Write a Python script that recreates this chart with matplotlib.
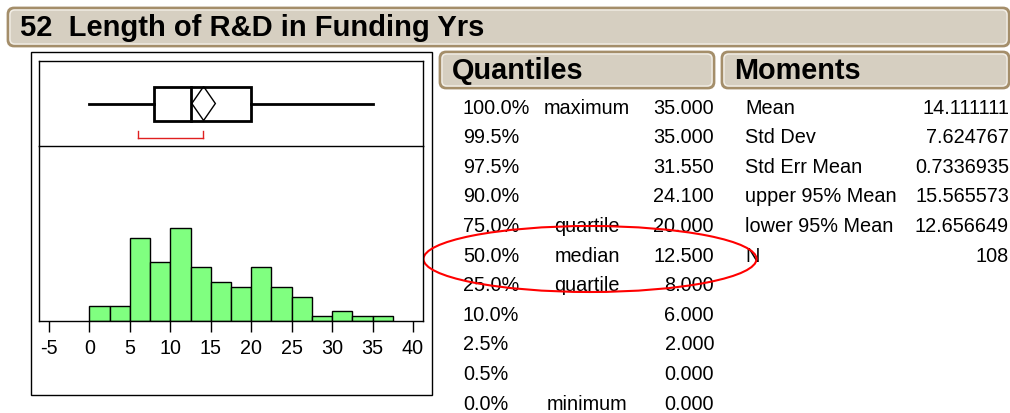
import numpy as np
import matplotlib
matplotlib.use('Agg')
import matplotlib.pyplot as plt
from matplotlib.patches import FancyBboxPatch, Ellipse, Rectangle, Polygon

plt.rcParams['font.family'] = ['Liberation Sans', 'DejaVu Sans']
plt.rcParams['axes.unicode_minus'] = False

# ---- dados ----
titulo = '52  Length of R&D in Funding Yrs'
bin_edges = [0, 2.5, 5, 7.5, 10, 12.5, 15, 17.5, 20, 22.5, 25, 27.5, 30, 32.5, 35, 37.5]
contagens = [3, 3, 17, 12, 19, 11, 8, 7, 11, 7, 5, 1, 2, 1, 1]
x_ticks = [-5, 0, 5, 10, 15, 20, 25, 30, 35, 40]

q_pct = ['100.0%', '99.5%', '97.5%', '90.0%', '75.0%', '50.0%', '25.0%', '10.0%', '2.5%', '0.5%', '0.0%']
q_nomes = ['maximum', '', '', '', 'quartile', 'median', 'quartile', '', '', '', 'minimum']
q_valores = [35.0, 35.0, 31.55, 24.1, 20.0, 12.5, 8.0, 6.0, 2.0, 0.0, 0.0]

m_nomes = ['Mean', 'Std Dev', 'Std Err Mean', 'upper 95% Mean', 'lower 95% Mean', 'N']
m_valores = ['14.111111', '7.624767', '0.7336935', '15.565573', '12.656649', '108']

minimo, q1, mediana, q3, maximo = 0.0, 8.0, 12.5, 20.0, 35.0
media, ic_inf, ic_sup = 14.111111, 12.656649, 15.565573
meia_curta = [6.0, 14.0]

# ---- figura ----
W, H = 1010, 413
fig = plt.figure(figsize=(W / 100, H / 100), dpi=100)

# eixo de fundo em pixels para as caixas e tabelas
ax0 = fig.add_axes([0, 0, 1, 1])
ax0.set_xlim(0, W)
ax0.set_ylim(H, 0)
ax0.axis('off')

bege = '#d6cfc1'
marrom = '#a48e6a'


def caixa_cabecalho(x, y, w, h, texto, tx, tam):
    ax0.add_patch(FancyBboxPatch((x, y), w, h, boxstyle='round,pad=0,rounding_size=6',
                                 facecolor=bege, edgecolor=marrom, lw=2))
    ax0.add_patch(FancyBboxPatch((x + 2, y + 2), w - 4, h - 4, boxstyle='round,pad=0,rounding_size=5',
                                 facecolor='none', edgecolor='#f2eee6', lw=1))
    ax0.text(tx, y + h / 2 + 1, texto, fontsize=tam, fontweight='bold', ha='left', va='center')


caixa_cabecalho(8, 8, 1001, 38, titulo, 20, 21)
caixa_cabecalho(440, 52, 274, 36, 'Quantiles', 452, 20.8)
caixa_cabecalho(722, 52, 287, 36, 'Moments', 734, 20.8)

# moldura externa do grafico
ax0.add_patch(Rectangle((30.5, 52), 401, 343, fill=False, edgecolor='black', lw=1))

# tabela de quantis
y0, dy = 108, 29.6
for i in range(len(q_pct)):
    y = y0 + i * dy
    ax0.text(463, y, q_pct[i], fontsize=14.3, ha='left', va='center')
    ax0.text(587, y, q_nomes[i], fontsize=14.3, ha='center', va='center')
    ax0.text(714, y, f'{q_valores[i]:.3f}', fontsize=14.3, ha='right', va='center')

# tabela de momentos
for i in range(len(m_nomes)):
    y = y0 + i * dy
    ax0.text(745, y, m_nomes[i], fontsize=14.3, ha='left', va='center')
    ax0.text(1009, y, m_valores[i], fontsize=14.3, ha='right', va='center')

# elipse vermelha em volta da mediana
ax0.add_patch(Ellipse((590, 259), 333, 66, fill=False, edgecolor='red', lw=1.5, zorder=10))

# ---- histograma ----
xl = (-6.24, 41.24)
esq, dir_ = 39, 423
ax_h = fig.add_axes([esq / W, 1 - 321 / H, (dir_ - esq) / W, (321 - 146) / H])
ax_h.bar(bin_edges[:-1], contagens, width=np.diff(bin_edges), align='edge',
         color='#80ff80', edgecolor='black', lw=1)
ax_h.set_xlim(*xl)
ax_h.set_ylim(0, 35.8)
ax_h.set_xticks(x_ticks)
ax_h.set_yticks([])
ax_h.spines['top'].set_visible(False)
ax_h.tick_params(axis='x', direction='out', length=8, width=1, pad=5, labelsize=14.2)
for s in ax_h.spines.values():
    s.set_linewidth(1)

# ---- box plot ----
ax_b = fig.add_axes([esq / W, 1 - 146 / H, (dir_ - esq) / W, (146 - 61) / H])
ax_b.set_xlim(*xl)
ax_b.set_ylim(0, 1)
ax_b.set_xticks([])
ax_b.set_yticks([])
for s in ax_b.spines.values():
    s.set_linewidth(1)

topo, base = 0.70, 0.30
ax_b.add_patch(Rectangle((q1, base), q3 - q1, topo - base, fill=False, edgecolor='black', lw=2))
ax_b.plot([mediana, mediana], [base, topo], color='black', lw=2)
ax_b.plot([minimo, q1], [0.5, 0.5], color='black', lw=2)
ax_b.plot([q3, maximo], [0.5, 0.5], color='black', lw=2)
ax_b.add_patch(Polygon([[ic_inf, 0.5], [media, topo], [ic_sup, 0.5], [media, base]],
                       closed=True, fill=False, edgecolor='black', lw=1))
# meia mais curta (vermelho)
ax_b.plot([meia_curta[0], meia_curta[1]], [0.10, 0.10], color='#e02020', lw=1)
ax_b.plot([meia_curta[0], meia_curta[0]], [0.10, 0.18], color='#e02020', lw=1)
ax_b.plot([meia_curta[1], meia_curta[1]], [0.10, 0.18], color='#e02020', lw=1)

fig.savefig('out.png', dpi=100)
